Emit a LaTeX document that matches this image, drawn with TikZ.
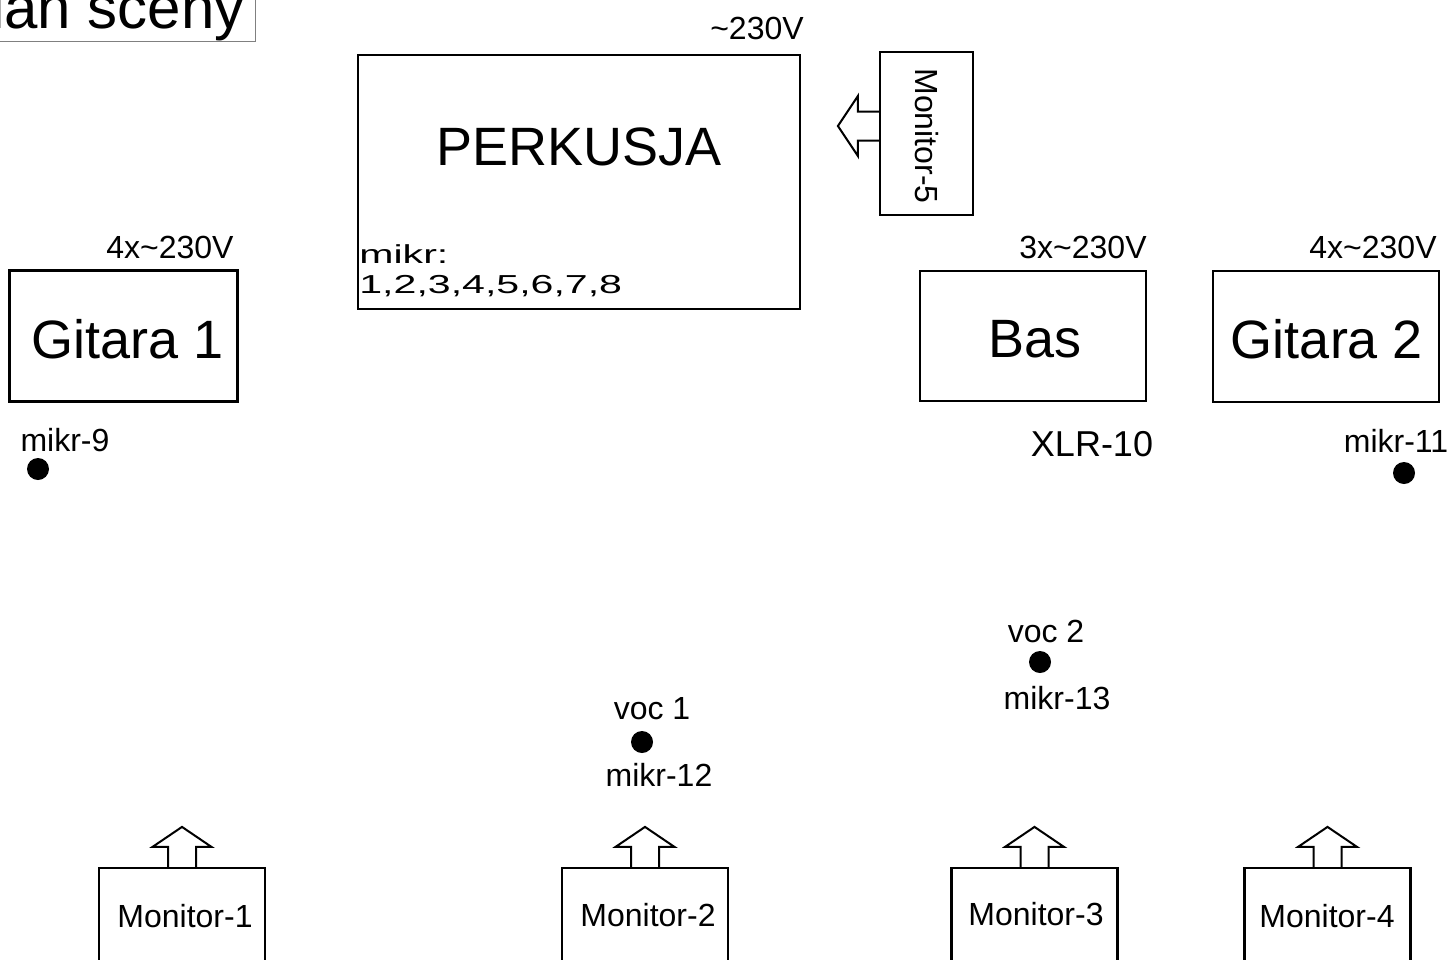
\documentclass[tikz,border=0pt]{standalone}
\usepackage{fontspec}
\setmainfont{Liberation Sans}
\usetikzlibrary{calc}
\newcommand{\fsz}[1]{\fontsize{#1}{#1}\selectfont}
\tikzset{
  stage/.style={draw, line width=1.1pt, inner sep=0pt},
  stagelabel/.style={inner sep=0pt, font=\fsz{27}},
  monbox/.style={draw, line width=1.1pt, inner sep=0pt, minimum width=83pt, minimum height=48pt, font=\fsz{16}},
  small/.style={inner sep=0pt, font=\fsz{16}},
  dot/.style={circle, fill=black, inner sep=0pt, minimum size=11pt},
  blockarrow/.style={draw, line width=1pt, line join=miter}
}
\begin{document}
\begin{tikzpicture}[x=0.5pt, y=-0.5pt]
\clip (0,0) rectangle (1449,959);
\fill[white] (0,0) rectangle (1449,959);

% title
\node[draw=gray, line width=0.5pt, anchor=base east, inner xsep=5.5pt, inner ysep=0.3pt,
      font=\fsz{30}] (title) at (256,28) {Plan sceny};

% percussion
\node[stage, minimum width=221pt, minimum height=127pt] (perk) at (579,182) {};
\node[stagelabel] (perkl) at (579,147) {PERKUSJA};
\node[small] (perkv) at (757,28) {\textasciitilde230V};
\node[inner sep=0pt, anchor=base west, font=\fsz{13}] (perkm1) at (359,263) {\scalebox{1.58}[1]{mikr:}};
\node[inner sep=0pt, anchor=base west, font=\fsz{13}] (perkm2) at (359,293) {\scalebox{1.58}[1]{1,2,3,4,5,6,7,8}};

% monitor 5
\node[draw, line width=1.1pt, inner sep=0pt, minimum width=46.5pt, minimum height=81.5pt] (m5) at (926.5,133.5) {};
\node[inner sep=0pt, rotate=-90, font=\fsz{16}] (m5l) at (927,136) {Monitor-5};
\draw[blockarrow] ($(m5.west)+(0,7)$) -- ++(-21,0) -- ++(0,15.5) -- ++(-20,-30)
   -- ++(20,-30) -- ++(0,15.5) -- ++(21,0);

% guitar 1
\node[stage, minimum width=114pt, minimum height=65.5pt] (git1) at (123.5,336) {};
\node[stagelabel] (git1l) at (128,339) {Gitara 1};
\node[small] (git1v) at (170,247) {4x\textasciitilde230V};
\node[small] (git1m) at (65,440) {mikr-9};
\node[dot] (d9) at (38,469) {};

% bass
\node[stage, minimum width=113pt, minimum height=65pt] (bas) at (1033,336) {};
\node[stagelabel] (basl) at (1035,339) {Bas};
\node[small] (basv) at (1083,247) {3x\textasciitilde230V};
\node[inner sep=0pt, font=\fsz{18}] (xlr) at (1092,444) {XLR-10};

% guitar 2
\node[stage, minimum width=113pt, minimum height=65.5pt] (git2) at (1326,336.5) {};
\node[stagelabel] (git2l) at (1327,339) {Gitara 2};
\node[small] (git2v) at (1373,247) {4x\textasciitilde230V};
\node[small] (git2m) at (1396,441) {mikr-11};
\node[dot] (d11) at (1404,473) {};

% vocals
\node[small] (voc1) at (652,709) {voc 1};
\node[dot] (d12) at (642,742) {};
\node[small] (m12) at (659,775) {mikr-12};
\node[small] (voc2) at (1046,631) {voc 2};
\node[dot] (d13) at (1040,662) {};
\node[small] (m13) at (1057,698) {mikr-13};

% floor monitors
\node[monbox] (m1) at (182,916) {};
\node[monbox] (m2) at (645,916) {};
\node[monbox] (m3) at (1034.5,916) {};
\node[monbox] (m4) at (1327.5,916) {};
\node[small] (m1l) at (185,916) {Monitor-1};
\node[small] (m2l) at (648,915) {Monitor-2};
\node[small] (m3l) at (1036,914) {Monitor-3};
\node[small] (m4l) at (1327,916) {Monitor-4};
\foreach \m in {m1,m2,m3,m4}{
  \draw[blockarrow] ($(\m.north)+(-14,0)$) -- ++(0,-20) -- ++(-15.5,0) -- ++(29.5,-20)
     -- ++(29.5,20) -- ++(-15.5,0) -- ++(0,20);
}
\end{tikzpicture}
\end{document}
